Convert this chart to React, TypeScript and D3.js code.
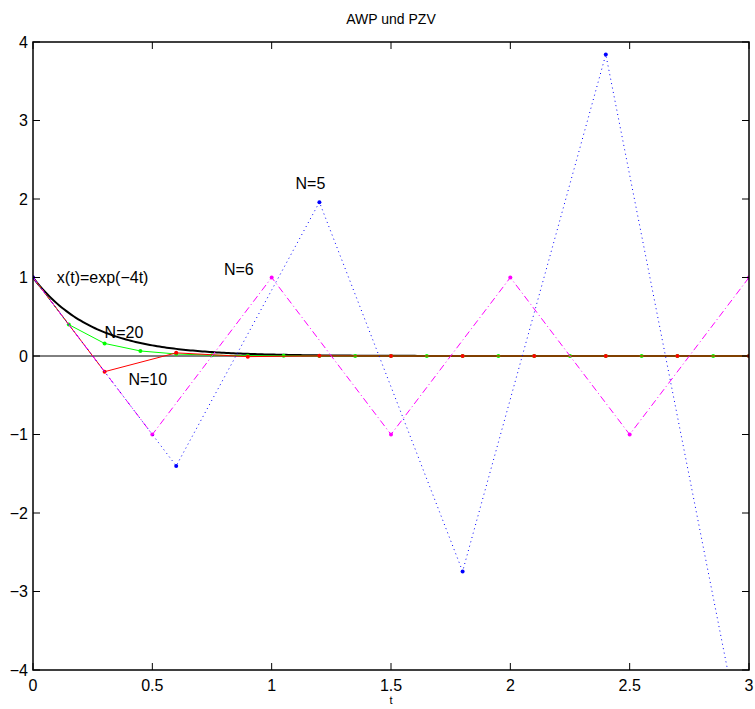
import React from "react";
import * as d3 from "d3";

// Explicit Euler for x' = -4x, x(0) = 1 on [0, 3] with N steps
const tN5 = [0, 0.6, 1.2, 1.8, 2.4, 3.0];
const xN5 = [1, -1.4, 1.96, -2.744, 3.8416, -5.37824];

const tN6 = [0, 0.5, 1.0, 1.5, 2.0, 2.5, 3.0];
const xN6 = [1, -1, 1, -1, 1, -1, 1];

const tN10 = [0, 0.3, 0.6, 0.9, 1.2, 1.5, 1.8, 2.1, 2.4, 2.7, 3.0];
const xN10 = [1, -0.2, 0.04, -0.008, 0.0016, -0.00032, 0.000064, -0.0000128, 0.0000026, -0.0000005, 0.0000001];

const tN20 = [0, 0.15, 0.3, 0.45, 0.6, 0.75, 0.9, 1.05, 1.2, 1.35, 1.5, 1.65, 1.8, 1.95, 2.1, 2.25, 2.4, 2.55, 2.7, 2.85, 3.0];
const xN20 = [1, 0.4, 0.16, 0.064, 0.0256, 0.01024, 0.004096, 0.0016384, 0.00065536, 0.000262, 0.000105, 0.000042, 0.000017, 0.0000067, 0.0000027, 0.0000011, 0.0000004, 0.0000002, 0.0000001, 0, 0];

const xTicks = [0, 0.5, 1, 1.5, 2, 2.5, 3];
const yTicks = [-4, -3, -2, -1, 0, 1, 2, 3, 4];

const labels = [
  { t: 0.1, x: 1.0, text: "x(t)=exp(\u22124t)" },
  { t: 0.3, x: 0.3, text: "N=20" },
  { t: 0.4, x: -0.3, text: "N=10" },
  { t: 0.8, x: 1.1, text: "N=6" },
  { t: 1.1, x: 2.2, text: "N=5" },
];

const W = 755;
const H = 709;
const L = 33;
const R = 749;
const T = 42;
const B = 670;
const FONT = "'Liberation Sans', Arial, Helvetica, sans-serif";

const fmt = (v: number) => String(v).replace("-", "\u2212");

export default function App() {
  const xs = d3.scaleLinear().domain([0, 3]).range([L, R]);
  const ys = d3.scaleLinear().domain([-4, 4]).range([B, T]);

  const line = d3
    .line<[number, number]>()
    .x((d) => xs(d[0]))
    .y((d) => ys(d[1]));

  const zip = (t: number[], x: number[]) => t.map((v, i) => [v, x[i]] as [number, number]);

  // exact solution, sampled finely along t
  const exact: [number, number][] = d3.range(0, 3.0001, 0.01).map((t) => [t, Math.exp(-4 * t)]);

  const series = [
    { pts: zip(tN20, xN20), color: "#00ff00", dash: undefined as string | undefined },
    { pts: zip(tN10, xN10), color: "#ff0000", dash: undefined },
    { pts: zip(tN6, xN6), color: "#ff00ff", dash: "7,3,1,3" },
    { pts: zip(tN5, xN5), color: "#0000ff", dash: "1,3.5" },
  ];

  return (
    <svg
      width={W}
      height={H}
      style={{ position: "absolute", left: 0, top: 0, background: "#fff" }}
      fontFamily={FONT}
    >
      <defs>
        <clipPath id="plotClip">
          <rect x={L} y={T} width={R - L} height={B - T} />
        </clipPath>
      </defs>
      <rect x={0} y={0} width={W} height={H} fill="#fff" />

      <g clipPath="url(#plotClip)">
        {/* zero line */}
        <line x1={xs(0)} x2={xs(3)} y1={ys(0)} y2={ys(0)} stroke="#000" strokeWidth={1} />
        {/* exact solution */}
        <path d={line(exact) || ""} fill="none" stroke="#000" strokeWidth={2} />
        {series.map((s, i) => (
          <g key={i}>
            <path
              d={line(s.pts) || ""}
              fill="none"
              stroke={s.color}
              strokeWidth={1}
              strokeDasharray={s.dash}
            />
            {s.pts.map((p, j) => (
              <circle key={j} cx={xs(p[0])} cy={ys(p[1])} r={2} fill={s.color} />
            ))}
          </g>
        ))}
      </g>

      {/* box and ticks */}
      <rect x={L} y={T} width={R - L} height={B - T} fill="none" stroke="#000" strokeWidth={1.5} />
      {xTicks.map((v) => (
        <g key={"x" + v}>
          <line x1={xs(v)} x2={xs(v)} y1={B} y2={B - 7} stroke="#000" strokeWidth={1} />
          <line x1={xs(v)} x2={xs(v)} y1={T} y2={T + 7} stroke="#000" strokeWidth={1} />
          <text x={xs(v)} y={B + 21} textAnchor="middle" fontSize={16} fill="#000">
            {fmt(v)}
          </text>
        </g>
      ))}
      {yTicks.map((v) => (
        <g key={"y" + v}>
          <line x1={L} x2={L + 7} y1={ys(v)} y2={ys(v)} stroke="#000" strokeWidth={1} />
          <line x1={R} x2={R - 7} y1={ys(v)} y2={ys(v)} stroke="#000" strokeWidth={1} />
          <text x={L - 5} y={ys(v)} dy="0.36em" textAnchor="end" fontSize={16} fill="#000">
            {fmt(v)}
          </text>
        </g>
      ))}

      {/* curve labels */}
      {labels.map((l) => (
        <text key={l.text} x={xs(l.t)} y={ys(l.x)} dy="0.36em" fontSize={16} fill="#000">
          {l.text}
        </text>
      ))}

      <text x={(L + R) / 2} y={24} textAnchor="middle" fontSize={14} fill="#000">
        AWP und PZV
      </text>
      <text x={(L + R) / 2} y={704} textAnchor="middle" fontSize={11} fill="#000">
        t
      </text>
    </svg>
  );
}
